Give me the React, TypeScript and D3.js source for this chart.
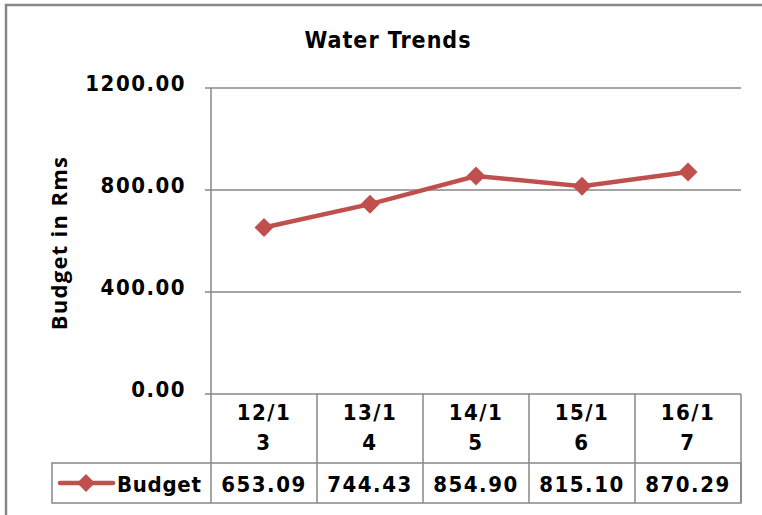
import React from "react";
import * as d3 from "d3";

const categories = ["12/13", "13/14", "14/15", "15/16", "16/17"];
const budget = [653.09, 744.43, 854.9, 815.1, 870.29];
const yTicks = [0, 400, 800, 1200];
const seriesName = "Budget";

const RED = "#C0504D";
const GRID = "#878787";
const FONT = "'DejaVu Sans Condensed', 'DejaVu Sans', sans-serif";

function App() {
  const width = 762;
  const height = 515;
  const plot = { left: 211, right: 741, top: 88, bottom: 394 };
  const rowCat = { top: 394, bottom: 463 };
  const rowVal = { top: 463, bottom: 503 };
  const legendLeft = 52;

  const x = d3
    .scaleBand()
    .domain(categories)
    .range([plot.left, plot.right])
    .padding(0);

  const y = d3.scaleLinear().domain([0, 1200]).range([plot.bottom, plot.top]);

  const line = d3
    .line<number>()
    .x((_, i) => x(categories[i])! + x.bandwidth() / 2)
    .y((d) => y(d));

  const diamond = (cx: number, cy: number, r: number) =>
    `M${cx},${cy - r}L${cx + r},${cy}L${cx},${cy + r}L${cx - r},${cy}Z`;

  const bounds = [plot.left, ...categories.map((c) => x(c)! + x.bandwidth())];

  return (
    <svg
      width={width}
      height={height}
      style={{ position: "absolute", left: 0, top: 0 }}
    >
      <rect x={0} y={0} width={width} height={height} fill="#fff" />
      {/* outer chart border */}
      <rect
        x={6}
        y={5}
        width={width + 20}
        height={height + 20}
        fill="none"
        stroke={GRID}
        strokeWidth={2.5}
      />

      <text
        x={388}
        y={48}
        textAnchor="middle"
        fontFamily={FONT}
        fontWeight="bold"
        fontSize={23}
        letterSpacing={1}
      >
        Water Trends
      </text>

      {/* gridlines + y labels */}
      {yTicks.map((t) => (
        <g key={t}>
          {t > 0 && (
            <line
              x1={plot.left}
              x2={plot.right}
              y1={y(t)}
              y2={y(t)}
              stroke={GRID}
              strokeWidth={1.5}
            />
          )}
          <line
            x1={plot.left - 6}
            x2={plot.left}
            y1={y(t)}
            y2={y(t)}
            stroke={GRID}
            strokeWidth={1.5}
          />
          <text
            x={186}
            y={y(t)}
            dy="0.15em"
            textAnchor="end"
            fontFamily={FONT}
            fontWeight="bold"
            fontSize={22}
            letterSpacing={1.5}
          >
            {t.toFixed(2)}
          </text>
        </g>
      ))}

      <text
        transform={`translate(67,243) rotate(-90)`}
        textAnchor="middle"
        fontFamily="'Open Sans', sans-serif"
        fontWeight="bold"
        fontSize={22}
        letterSpacing={1.3}
      >
        Budget in Rms
      </text>

      {/* data table */}
      <line
        x1={plot.left}
        x2={plot.right}
        y1={plot.bottom}
        y2={plot.bottom}
        stroke={GRID}
        strokeWidth={1.5}
      />
      <line
        x1={plot.left}
        x2={plot.left}
        y1={plot.top}
        y2={rowVal.bottom}
        stroke={GRID}
        strokeWidth={1.5}
      />
      {bounds.slice(1).map((b, i) => (
        <line
          key={i}
          x1={b}
          x2={b}
          y1={rowCat.top}
          y2={rowVal.bottom}
          stroke={GRID}
          strokeWidth={1.5}
        />
      ))}
      <rect
        x={legendLeft}
        y={rowVal.top}
        width={plot.right - legendLeft}
        height={rowVal.bottom - rowVal.top}
        fill="none"
        stroke={GRID}
        strokeWidth={1.5}
      />

      {categories.map((c) => {
        const cx = x(c)! + x.bandwidth() / 2;
        const [a, b] = c.split("/");
        return (
          <text
            key={c}
            x={cx}
            textAnchor="middle"
            fontFamily={FONT}
            fontWeight="bold"
            fontSize={22}
            letterSpacing={1.5}
          >
            <tspan x={cx} y={420}>
              {a + "/" + b.slice(0, 1)}
            </tspan>
            <tspan x={cx} y={450}>
              {b.slice(1)}
            </tspan>
          </text>
        );
      })}

      {budget.map((v, i) => (
        <text
          key={i}
          x={x(categories[i])! + x.bandwidth() / 2}
          y={492}
          textAnchor="middle"
          fontFamily={FONT}
          fontWeight="bold"
          fontSize={22}
          letterSpacing={1.5}
        >
          {v.toFixed(2)}
        </text>
      ))}

      {/* legend key */}
      <line
        x1={60}
        x2={113}
        y1={483}
        y2={483}
        stroke={RED}
        strokeWidth={4.5}
        strokeLinecap="round"
      />
      <path d={diamond(86, 483, 9)} fill={RED} />
      <text
        x={117}
        y={492}
        fontFamily={FONT}
        fontWeight="bold"
        fontSize={22}
        letterSpacing={0.7}
      >
        {seriesName}
      </text>

      {/* series */}
      <path d={line(budget)!} fill="none" stroke={RED} strokeWidth={4.5} />
      {budget.map((v, i) => (
        <path
          key={i}
          d={diamond(x(categories[i])! + x.bandwidth() / 2, y(v), 9.5)}
          fill={RED}
        />
      ))}
    </svg>
  );
}

export default App;
